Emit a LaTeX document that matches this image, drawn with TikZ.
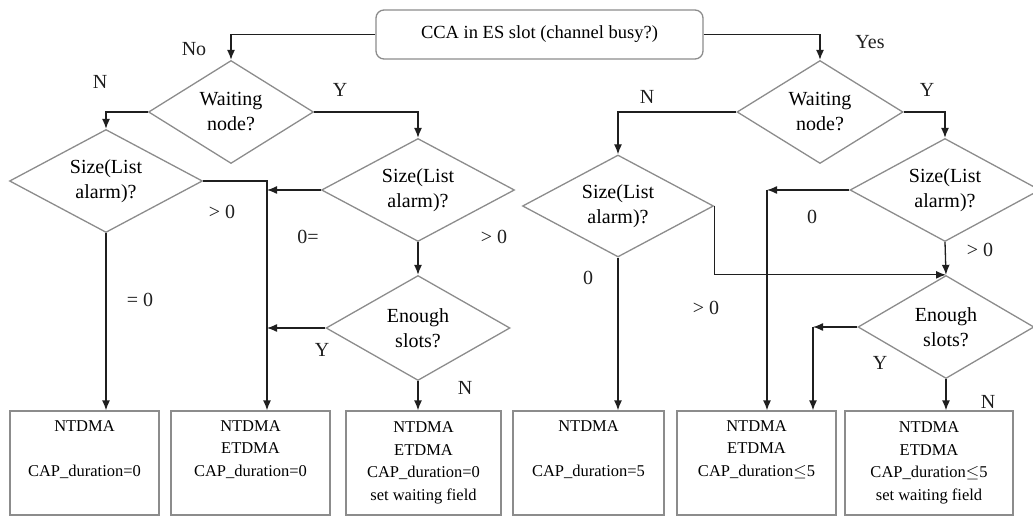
\documentclass[tikz,border=0pt]{standalone}
\usepackage{fontspec}
\setmainfont{Liberation Serif}
\usetikzlibrary{shapes.geometric,arrows.meta}
\definecolor{shapegray}{gray}{0.55}
\definecolor{linegray}{gray}{0.12}
\newcommand{\decfont}{\fontsize{20}{25}\selectfont}
\newcommand{\headfont}{\fontsize{18.5}{22}\selectfont}
\newcommand{\rectfont}{\fontsize{16.5}{22.5}\selectfont}
\tikzset{
    decision/.style={diamond, aspect=2, draw=shapegray, line width=1.3pt, inner sep=0pt, minimum height=103pt, align=center, font=\decfont},
    outcome/.style={rectangle, draw=shapegray, line width=1.3pt, inner sep=0pt, minimum height=104pt, align=center, font=\rectfont},
    flow/.style={draw=linegray, line width=1.3pt, -{Latex[length=10pt,width=8pt]}},
    lbl/.style={font=\decfont, text=linegray}
}
\begin{document}
\begin{tikzpicture}[x=1pt, y=-1pt]
                \useasboundingbox (0,0) rectangle (1033,518);
                \node[draw=shapegray, line width=1.3pt, rounded corners=8pt, minimum width=327pt, minimum height=49pt, font=\headfont] (cca) at (539.5,34.5) {CCA in ES slot (channel busy?)};

                \node[decision, minimum width=165pt] (waitL) at (231,112) {Waiting\\node?};
                \node[decision, minimum width=193pt] (sizeLL) at (106,181) {Size(List\\alarm)?};
                \node[decision, minimum width=193pt] (sizeLR) at (418,190) {Size(List\\alarm)?};
                \node[decision, minimum width=184pt, minimum height=105pt] (enoughL) at (418,328) {Enough\\slots?};
                \node[decision, minimum width=166pt] (waitR) at (820,112) {Waiting\\node?};
                \node[decision, minimum width=191pt, minimum height=102pt] (sizeRL) at (618,206) {Size(List\\alarm)?};
                \node[decision, minimum width=190pt] (sizeRR) at (945,190) {Size(List\\alarm)?};
                \node[decision, minimum width=176pt] (enoughR) at (946,327) {Enough\\slots?};

                \node[outcome, minimum width=149pt] (b1) at (84.5,463) {NTDMA\\ \strut\\ CAP\_duration=0\\ \strut};
                \node[outcome, minimum width=159pt] (b2) at (250.5,463) {NTDMA\\ ETDMA\\ CAP\_duration=0\\ \strut};
                \node[outcome, minimum width=155pt] (b3) at (423.5,463) {NTDMA\\ ETDMA\\ CAP\_duration=0\\ set waiting field};
                \node[outcome, minimum width=151pt] (b4) at (588.5,463) {NTDMA\\ \strut\\ CAP\_duration=5\\ \strut};
                \node[outcome, minimum width=159pt] (b5) at (756.5,463) {NTDMA\\ ETDMA\\ CAP\_duration$\leq$5\\ \strut};
                \node[outcome, minimum width=168pt] (b6) at (929,463) {NTDMA\\ ETDMA\\ CAP\_duration$\leq$5\\ set waiting field};

                \coordinate (jL) at (267,181);
                \coordinate (jR) at (767,190);
                \coordinate (jY) at (813,327);

                \draw[flow] (cca.west) -| (waitL.north);
                \draw[flow] (cca.east) -| (waitR.north);
                \draw[flow] (waitL.west) -| (sizeLL.north);
                \draw[flow] (waitL.east) -| (sizeLR.north);
                \draw[flow] (sizeLL.south) -- (sizeLL.south |- b1.north);
                \draw[flow] (sizeLL.east) -| (jL |- b2.north);
                \draw[flow] (sizeLR.west) -- (jL |- sizeLR.west);
                \draw[flow] (sizeLR.south) -- (enoughL.north);
                \draw[flow] (enoughL.west) -- (jL |- enoughL.west);
                \draw[flow] (enoughL.south) -- (enoughL.south |- b3.north);

                \draw[flow] (waitR.west) -| (sizeRL.north);
                \draw[flow] (waitR.east) -| (sizeRR.north);
                \draw[flow] (sizeRL.south) -- (sizeRL.south |- b4.north);
                \draw[flow] (sizeRL.east) |- (enoughR.north);
                \draw[flow] (sizeRR.west) -- (jR);
                \draw[flow] (jR) -- (jR |- b5.north);
                \draw[flow] (sizeRR.south) -- (enoughR.north);
                \draw[flow] (enoughR.west) -- (jY);
                \draw[flow] (jY) -- (jY |- b5.north);
                \draw[flow] (enoughR.south) -- (enoughR.south |- b6.north);

                \node[lbl] (lNo) at (194,49) {No};
                \node[lbl] (lYes) at (870,42) {Yes};
                \node[lbl] (lN1) at (100,82) {N};
                \node[lbl] (lY1) at (340,90) {Y};
                \node[lbl] (lG1) at (222,212) {> 0};
                \node[lbl] (lZ1) at (308,237) {0=};
                \node[lbl] (lG2) at (494,237) {> 0};
                \node[lbl] (lZ2) at (140,300) {= 0};
                \node[lbl] (lY2) at (322,350) {Y};
                \node[lbl] (lN2) at (465,388) {N};
                \node[lbl] (lN3) at (647,97) {N};
                \node[lbl] (lY3) at (927,90) {Y};
                \node[lbl] (lZ3) at (588,278) {0};
                \node[lbl] (lZ4) at (812,217) {0};
                \node[lbl] (lG3) at (706,308) {> 0};
                \node[lbl] (lG4) at (980,250) {> 0};
                \node[lbl] (lY4) at (880,363) {Y};
                \node[lbl] (lN4) at (988,402) {N};
\end{tikzpicture}
\end{document}
